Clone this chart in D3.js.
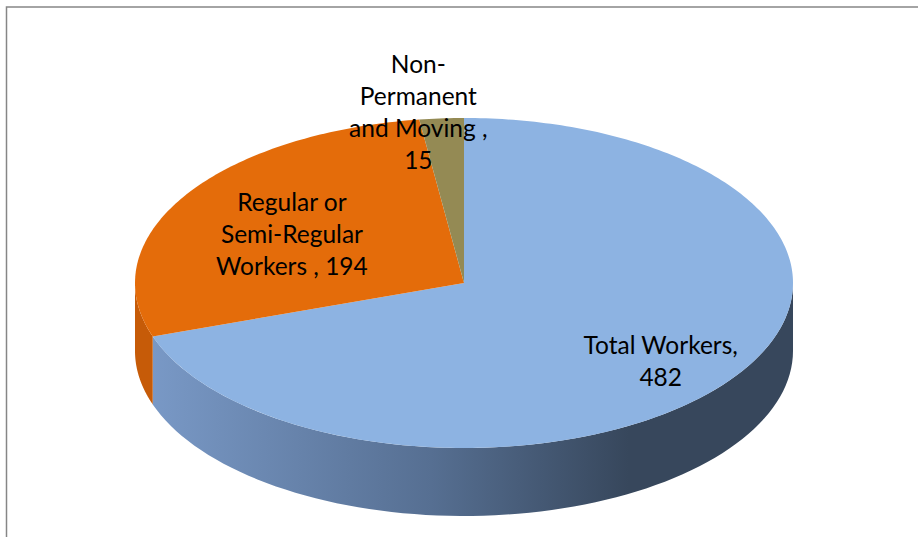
<!DOCTYPE html>
<html>
<head>
<meta charset="utf-8">
<script src="https://cdn.jsdelivr.net/npm/d3@7"></script>
<style>
  body { margin: 0; background: #fff; }
  #chart { width: 918px; height: 537px; }
  .lbl { font-family: Lato, "Open Sans", sans-serif; font-size: 24.5px; fill: #000; }
</style>
</head>
<body>
<div id="chart"></div>
<script>
var categories = ["Total Workers", "Regular or Semi-Regular Workers ", "Non-Permanent and Moving "];
var values = [482, 194, 15];
var labelLines = [
  ["Total Workers,", "482"],
  ["Regular or", "Semi-Regular", "Workers , 194"],
  ["Non-", "Permanent", "and Moving ,", "15"]
];
var topColors = ["#8db3e2", "#e46c0a", "#948a54"];
var wallColors = [["#7b9bc9", "#566f92", "#37475c"], ["#c65b08", "#c65b08", "#c65b08"], ["#7a7245", "#7a7245", "#7a7245"]];

var width = 918, height = 537;
var cx = 464, cy = 283, rx = 329, ry = 165, depth = 68;

var svg = d3.select("#chart").append("svg")
  .attr("width", width)
  .attr("height", height);

// frame (only left + top edges show in the crop)
svg.append("rect")
  .attr("x", 6.5).attr("y", 7)
  .attr("width", 930).attr("height", 560)
  .attr("fill", "none")
  .attr("stroke", "#868686")
  .attr("stroke-width", 1.5);

var defs = svg.append("defs");
wallColors.forEach(function(c, i) {
  var g = defs.append("linearGradient")
    .attr("id", "wall" + i)
    .attr("gradientUnits", "userSpaceOnUse")
    .attr("x1", cx - rx).attr("x2", cx + rx)
    .attr("y1", 0).attr("y2", 0);
  g.append("stop").attr("offset", "0").attr("stop-color", c[0]);
  g.append("stop").attr("offset", "0.45").attr("stop-color", c[1]);
  g.append("stop").attr("offset", "0.75").attr("stop-color", c[2]);
  g.append("stop").attr("offset", "1").attr("stop-color", c[2]);
});

var pie = d3.pie().sort(null).value(function(d) { return d; });
var arcs = pie(values);

function pt(a, dy) {
  return [cx + rx * Math.sin(a), cy - ry * Math.cos(a) + (dy || 0)];
}

function wallPath(a0, a1) {
  var n = 80, p = [], i;
  for (i = 0; i <= n; i++) p.push(pt(a0 + (a1 - a0) * i / n, 0));
  for (i = n; i >= 0; i--) p.push(pt(a0 + (a1 - a0) * i / n, depth));
  return d3.line()(p) + "Z";
}

function topPath(a0, a1) {
  var n = Math.max(4, Math.ceil((a1 - a0) * 60)), p = [[cx, cy]];
  for (var i = 0; i <= n; i++) p.push(pt(a0 + (a1 - a0) * i / n, 0));
  return d3.line()(p) + "Z";
}

// visible outer wall: front half, between 90deg and 270deg
arcs.forEach(function(d, i) {
  var a0 = Math.max(d.startAngle, Math.PI / 2);
  var a1 = Math.min(d.endAngle, Math.PI * 1.5);
  if (a1 <= a0) return;
  svg.append("path")
    .attr("d", wallPath(a0, a1))
    .attr("fill", "url(#wall" + i + ")");
});

svg.selectAll("path.top")
  .data(arcs)
  .enter()
  .append("path")
    .attr("class", "top")
    .attr("d", function(d) { return topPath(d.startAngle, d.endAngle); })
    .attr("fill", function(d, i) { return topColors[i]; });

// label placement: fraction of radius along mid angle, plus nudge
var labelR = [0.72, 0.6, 1.1];
var labelNudge = [[4, 10], [-4, 4], [-21, 11]];
var lineH = 32;

arcs.forEach(function(d, i) {
  var a = (d.startAngle + d.endAngle) / 2;
  var x = cx + rx * labelR[i] * Math.sin(a) + labelNudge[i][0];
  var y = cy - ry * labelR[i] * Math.cos(a) + labelNudge[i][1];
  var lines = labelLines[i];
  var t = svg.append("text")
    .attr("class", "lbl")
    .attr("text-anchor", "middle");
  lines.forEach(function(s, k) {
    t.append("tspan")
      .attr("x", x)
      .attr("y", y + (k - (lines.length - 1) / 2) * lineH + 8)
      .text(s);
  });
});
</script>
</body>
</html>
